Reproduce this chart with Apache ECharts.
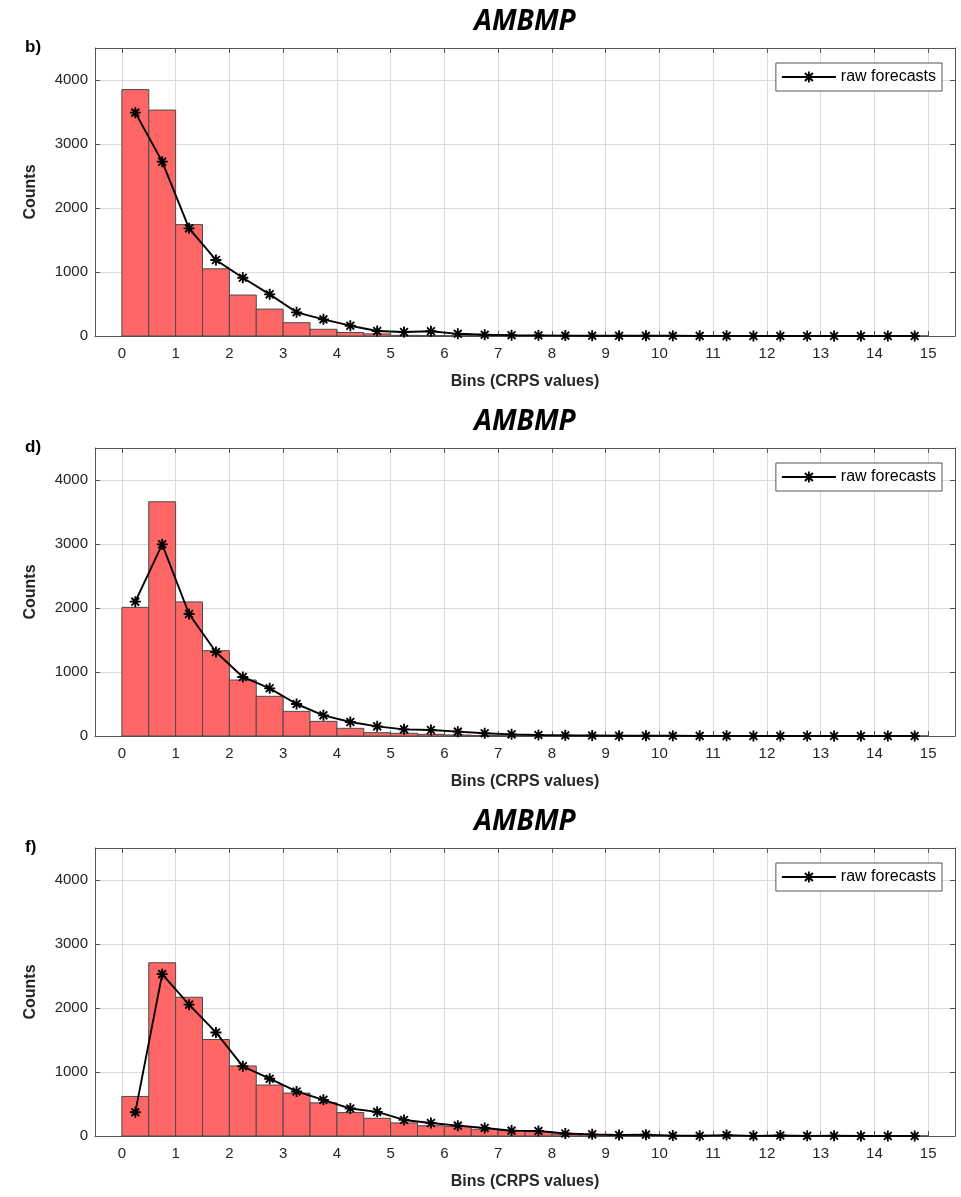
<!DOCTYPE html>
<html><head><meta charset="utf-8">
<script src="https://cdn.jsdelivr.net/npm/echarts@6/dist/echarts.min.js"></script>
<style>html,body{margin:0;padding:0;background:#fff}#c{width:961px;height:1197px}</style>
</head><body><div id="c"></div>
<script>
// ---- data ----
const binCenters = [0.25,0.75,1.25,1.75,2.25,2.75,3.25,3.75,4.25,4.75,5.25,5.75,6.25,6.75,7.25,7.75,8.25,8.75,9.25,9.75,10.25,10.75,11.25,11.75,12.25,12.75,13.25,13.75,14.25,14.75];
const xTickValues = [0,1,2,3,4,5,6,7,8,9,10,11,12,13,14,15];
const yTickValues = [0,1000,2000,3000,4000];
const panelLetters = ['b)','d)','f)'];
const panelTitles = ['AMBMP','AMBMP','AMBMP'];
const xAxisTitle = 'Bins (CRPS values)';
const yAxisTitle = 'Counts';
const lineName = 'raw forecasts';

const histB = [3850,3530,1740,1050,640,420,208,105,55,33,10,6,4,2,1,1,0,0,0,0,0,0,0,0,0,0,0,0,0,0];
const rawB  = [3490,2724,1682,1188,911,651,370,260,161,78,62,75,34,20,12,10,6,5,4,3,3,2,2,1,1,1,1,0,0,0];

const histD = [2010,3660,2095,1333,875,620,385,229,120,52,42,26,16,8,5,3,2,1,1,0,0,0,0,0,0,0,0,0,0,0];
const rawD  = [2099,2995,1906,1313,922,745,500,323,219,151,104,94,68,42,26,16,10,7,5,4,3,2,2,1,1,1,0,0,0,0];

const histF = [618,2707,2168,1508,1094,796,670,518,366,277,204,160,150,105,84,68,30,20,15,10,8,6,5,4,3,2,2,1,1,1];
const rawF  = [372,2529,2052,1618,1089,895,696,565,429,377,251,204,162,126,84,79,40,26,16,21,6,4,14,2,8,2,3,1,1,1];

const panels = [[histB, rawB],[histD, rawD],[histF, rawF]];

// ---- styling / layout ----
const FONT = '"Liberation Sans", Arial, sans-serif';
const binHalf = 0.25;
const gridTops = [48, 448, 848];
const gridLeft = 95, gridRight = 6, gridH = 288;
const axisColor = '#555555';
const gridColor = '#dcdcdc';

const asterisk = 'path://M8.3 0L11.7 0L11.7 20L8.3 20Z M0 8.3L20 8.3L20 11.7L0 11.7Z M4.14 1.73L18.27 15.86L15.86 18.27L1.73 4.14Z M18.27 4.14L4.14 18.27L1.73 15.86L15.86 1.73Z';

const grids = [], xAxes = [], yAxes = [], series = [], legends = [], graphics = [];

panels.forEach((p, i) => {
  grids.push({left: gridLeft, right: gridRight, top: gridTops[i], height: gridH, containLabel: false});
  xAxes.push({
    type: 'value', gridIndex: i, position: 'bottom', min: -0.5, max: 15.5,
    name: xAxisTitle, nameLocation: 'middle', nameGap: 38,
    nameTextStyle: {fontFamily: FONT, fontWeight: 'bold', fontSize: 16, color: '#262626'},
    axisLine: {show: true, onZero: false, lineStyle: {color: axisColor, width: 1}},
    axisTick: {show: true, inside: true, length: 5, customValues: xTickValues, lineStyle: {color: axisColor}},
    axisLabel: {show: true, customValues: xTickValues, margin: 10, fontFamily: FONT, fontSize: 15, color: '#262626'},
    splitLine: {show: true, lineStyle: {color: gridColor, width: 1}}
  });
  xAxes.push({
    type: 'value', gridIndex: i, position: 'top', min: -0.5, max: 15.5,
    axisLine: {show: true, onZero: false, lineStyle: {color: axisColor, width: 1}},
    axisTick: {show: true, inside: true, length: 5, customValues: xTickValues, lineStyle: {color: axisColor}},
    axisLabel: {show: false}, splitLine: {show: false}
  });
  yAxes.push({
    type: 'value', gridIndex: i, position: 'left', min: 0, max: 4500,
    name: yAxisTitle, nameLocation: 'middle', nameGap: 56, nameRotate: 90,
    nameTextStyle: {fontFamily: FONT, fontWeight: 'bold', fontSize: 16, color: '#262626'},
    axisLine: {show: true, onZero: false, lineStyle: {color: axisColor, width: 1}},
    axisTick: {show: true, inside: true, length: 5, customValues: yTickValues, lineStyle: {color: axisColor}},
    axisLabel: {show: true, customValues: yTickValues, margin: 7, fontFamily: FONT, fontSize: 15, color: '#262626',
      formatter: v => String(v)},
    splitLine: {show: true, lineStyle: {color: gridColor, width: 1}}
  });
  yAxes.push({
    type: 'value', gridIndex: i, position: 'right', min: 0, max: 4500,
    axisLine: {show: true, onZero: false, lineStyle: {color: axisColor, width: 1}},
    axisTick: {show: true, inside: true, length: 5, customValues: yTickValues, lineStyle: {color: axisColor}},
    axisLabel: {show: false}, splitLine: {show: false}
  });
  const hist = p[0], raw = p[1];
  series.push({
    type: 'custom', xAxisIndex: 2*i, yAxisIndex: 2*i, z: 2,
    data: binCenters.map((c, k) => [c, hist[k]]),
    renderItem: function (params, api) {
      const c = api.value(0), v = api.value(1);
      const a = api.coord([c - binHalf, v]);
      const b = api.coord([c + binHalf, 0]);
      return {type: 'rect', shape: {x: a[0], y: a[1], width: b[0] - a[0], height: b[1] - a[1]},
        style: {fill: '#ff6666', stroke: '#4a4a4a', lineWidth: 1}};
    },
    silent: true
  });
  series.push({
    type: 'line', name: lineName, xAxisIndex: 2*i, yAxisIndex: 2*i, z: 5,
    data: binCenters.map((c, k) => [c, raw[k]]),
    symbol: asterisk, symbolSize: 11, showAllSymbol: true,
    lineStyle: {color: '#000', width: 1.9}, itemStyle: {color: '#000'},
    animation: false
  });
  legends.push({
    data: [lineName], right: 19, top: gridTops[i] + 15, orient: 'horizontal',
    itemWidth: 54, itemHeight: 14, itemGap: 4, padding: [6, 6, 6, 5],
    borderColor: '#555', borderWidth: 1, backgroundColor: '#fff', borderRadius: 0,
    textStyle: {fontFamily: FONT, fontSize: 16, color: '#000', padding: [0, 0, 0, 0]}, selectedMode: false
  });
  graphics.push({type: 'text', x: gridLeft + (961 - gridLeft - gridRight) / 2, y: gridTops[i] - 26,
    style: {text: panelTitles[i], align: 'center', verticalAlign: 'middle', font: 'italic bold 28px "Open Sans", sans-serif', fill: '#000'}});
  graphics.push({type: 'text', x: 25, y: gridTops[i] - 1,
    style: {text: panelLetters[i], align: 'left', verticalAlign: 'middle', font: 'bold 17px ' + FONT, fill: '#000'}});
});

const chart = echarts.init(document.getElementById('c'), null, {renderer: 'canvas'});
chart.setOption({
  animation: false,
  backgroundColor: '#fff',
  grid: grids, xAxis: xAxes, yAxis: yAxes, series: series, legend: legends, graphic: graphics
});
</script></body></html>
